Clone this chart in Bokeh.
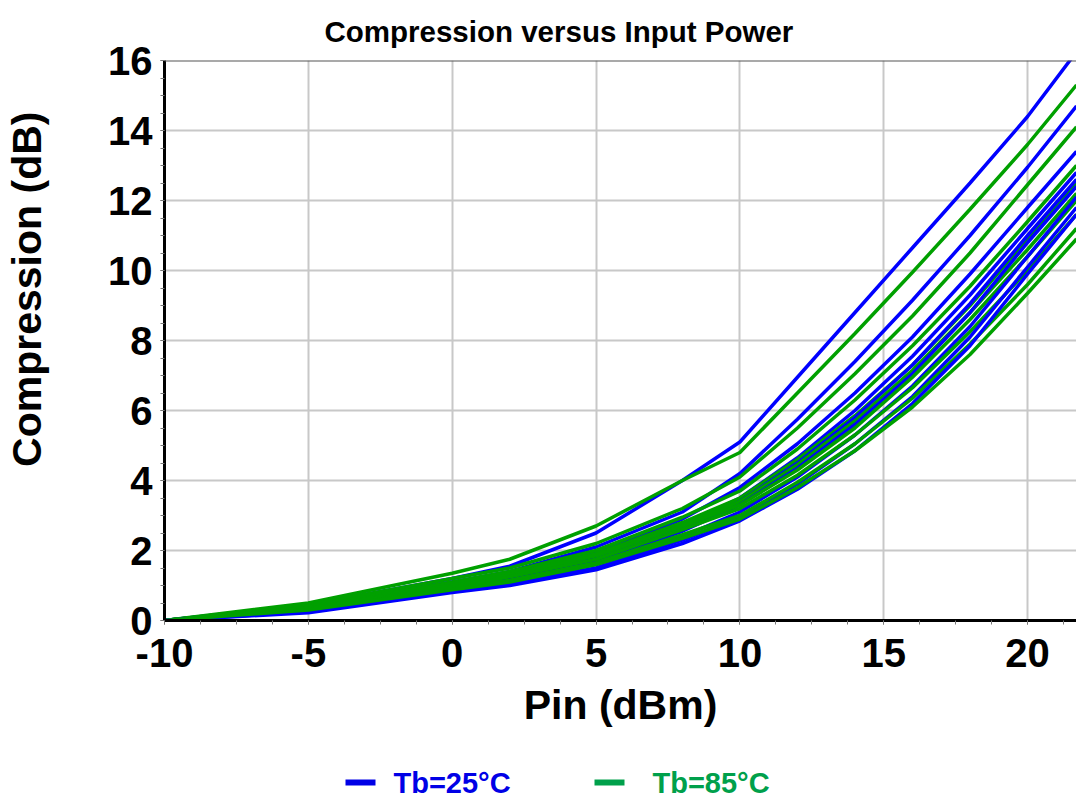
from bokeh.plotting import figure
from bokeh.models import Range1d, FixedTicker, Span, Title
from bokeh.layouts import column
from bokeh.embed import file_html
from bokeh.resources import INLINE
from bokeh.core.properties import value

# ---- data ----
pin = [-10, -5, 0, 2, 5, 8, 10, 12, 14, 16, 18, 20, 21.7]

blue_curves = [
    [0, 0.45, 1.20, 1.55, 2.50, 4.00, 5.10, 6.95, 8.80, 10.65, 12.50, 14.40, 16.25],
    [0, 0.40, 1.10, 1.40, 2.10, 3.10, 4.20, 5.75, 7.40, 9.15, 11.00, 12.95, 14.70],
    [0, 0.35, 1.00, 1.30, 1.95, 2.90, 3.80, 5.05, 6.50, 8.10, 9.90, 11.80, 13.40],
    [0, 0.30, 0.95, 1.20, 1.80, 2.70, 3.50, 4.65, 6.00, 7.55, 9.30, 11.20, 12.80],
    [0, 0.30, 0.92, 1.18, 1.75, 2.60, 3.40, 4.50, 5.80, 7.30, 9.05, 11.00, 12.60],
    [0, 0.30, 0.90, 1.15, 1.70, 2.55, 3.30, 4.35, 5.60, 7.05, 8.80, 10.80, 12.40],
    [0, 0.28, 0.88, 1.10, 1.60, 2.40, 3.10, 4.10, 5.30, 6.70, 8.40, 10.40, 12.10],
    [0, 0.25, 0.85, 1.05, 1.50, 2.30, 2.95, 3.90, 5.05, 6.40, 8.10, 10.10, 11.80],
    [0, 0.22, 0.80, 1.00, 1.45, 2.20, 2.85, 3.75, 4.85, 6.20, 7.85, 9.90, 11.60],
]
green_curves = [
    [0, 0.50, 1.35, 1.75, 2.70, 4.00, 4.80, 6.50, 8.20, 9.95, 11.75, 13.60, 15.30],
    [0, 0.45, 1.20, 1.50, 2.20, 3.20, 4.10, 5.50, 7.05, 8.70, 10.50, 12.45, 14.10],
    [0, 0.40, 1.10, 1.40, 2.00, 2.95, 3.70, 4.90, 6.30, 7.85, 9.55, 11.40, 13.00],
    [0, 0.40, 1.05, 1.35, 1.90, 2.80, 3.50, 4.60, 5.85, 7.30, 9.00, 10.90, 12.50],
    [0, 0.38, 1.00, 1.30, 1.90, 2.75, 3.40, 4.45, 5.70, 7.15, 8.80, 10.60, 12.20],
    [0, 0.35, 1.00, 1.30, 1.85, 2.70, 3.30, 4.30, 5.50, 6.95, 8.60, 10.40, 12.00],
    [0, 0.35, 0.95, 1.25, 1.75, 2.60, 3.20, 4.15, 5.30, 6.65, 8.25, 10.00, 11.60],
    [0, 0.32, 0.90, 1.15, 1.65, 2.45, 3.00, 3.95, 5.05, 6.35, 7.90, 9.60, 11.20],
    [0, 0.30, 0.88, 1.10, 1.60, 2.35, 2.90, 3.80, 4.85, 6.10, 7.60, 9.35, 10.90],
]

x_ticks = [-10, -5, 0, 5, 10, 15, 20]
x_minor = [-10 + 1.25 * i for i in range(27)]
y_ticks = [0, 2, 4, 6, 8, 10, 12, 14, 16]
y_minor = [0.5 * i for i in range(33)]

chart_title = "Compression versus Input Power"
x_title = "Pin (dBm)"
y_title = "Compression (dB)"
series_names = ["Tb=25°C", "Tb=85°C"]
BLUE = "#0000ff"
GREEN = "#00a000"
BLUE_TXT = "#0000e6"
GREEN_TXT = "#00a04b"

FONT = "Liberation Sans"

# ---- main plot ----
p = figure(width=1076, height=740, x_range=Range1d(-10, 21.7), y_range=Range1d(0, 16),
           output_backend="svg", toolbar_location=None,
           min_border_left=164, min_border_right=0, min_border_top=60, min_border_bottom=120)
p.outline_line_color = None
p.background_fill_color = "white"
p.border_fill_color = "white"

p.add_layout(Title(text=chart_title, align="left", offset=160, standoff=21,
                   vertical_align="top",
                   text_font=FONT, text_font_size="29.5px", text_font_style="bold",
                   text_color="black"), "above")

for ax in (p.xaxis[0], p.yaxis[0]):
    ax.axis_line_width = 3
    ax.axis_line_color = "black"
    ax.major_tick_out = 4
    ax.major_tick_in = 0
    ax.minor_tick_out = 4
    ax.minor_tick_in = 0
    ax.major_tick_line_color = "#777777"
    ax.minor_tick_line_color = "#777777"
    ax.major_label_text_font = FONT
    ax.major_label_text_font_size = "40px"
    ax.major_label_text_font_style = "bold"
    ax.major_label_text_color = "black"
    ax.axis_label_text_font = FONT
    ax.axis_label_text_font_size = "41px"
    ax.axis_label_text_font_style = "bold"
    ax.axis_label_text_color = "black"

p.xaxis.ticker = FixedTicker(ticks=x_ticks, minor_ticks=x_minor)
p.yaxis.ticker = FixedTicker(ticks=y_ticks, minor_ticks=y_minor)
p.xaxis.major_label_overrides = {-10: "-10", -5: "-5"}
p.xaxis.axis_label = x_title
p.xaxis.major_label_standoff = 14
p.yaxis.major_label_standoff = 8
p.xaxis.axis_label_standoff = 12
# leading no-break spaces move the centred, upward-reading label towards the top,
# as in the original where it sits above the middle of the plot
p.yaxis.axis_label = "\u00a0" * 9 + y_title
p.yaxis.axis_label_standoff = 55

p.xgrid.ticker = FixedTicker(ticks=x_ticks)
p.ygrid.ticker = FixedTicker(ticks=y_ticks)
p.grid.grid_line_color = "#c8c8c8"
p.grid.grid_line_width = 2

p.add_layout(Span(location=16, dimension="width", line_color="#555555", line_width=2))

for b, g in zip(blue_curves, green_curves):
    p.line(pin, b, line_color=BLUE, line_width=3.5)
    p.line(pin, g, line_color=GREEN, line_width=3.5)

# ---- legend strip (frame aligned with the main plot frame: 164..1076 px) ----
lg = figure(width=1076, height=59, x_range=Range1d(164, 1076), y_range=Range1d(0, 59),
            output_backend="svg", toolbar_location=None,
            min_border_left=164, min_border_right=0, min_border_top=0, min_border_bottom=0)
lg.axis.visible = False
lg.grid.visible = False
lg.outline_line_color = None
lg.segment(x0=[345, 594], y0=[17, 17], x1=[375, 624], y1=[17, 17],
           line_color=[BLUE_TXT, GREEN_TXT], line_width=6)
lg.text(x=[393, 652], y=[17, 17], text=series_names,
        text_color=[BLUE_TXT, GREEN_TXT], text_font=value(FONT), text_font_size="29px",
        text_font_style="bold", text_baseline="middle", text_align="left")

layout = column(p, lg, spacing=0)
open("out.html", "w").write(file_html(layout, INLINE))
